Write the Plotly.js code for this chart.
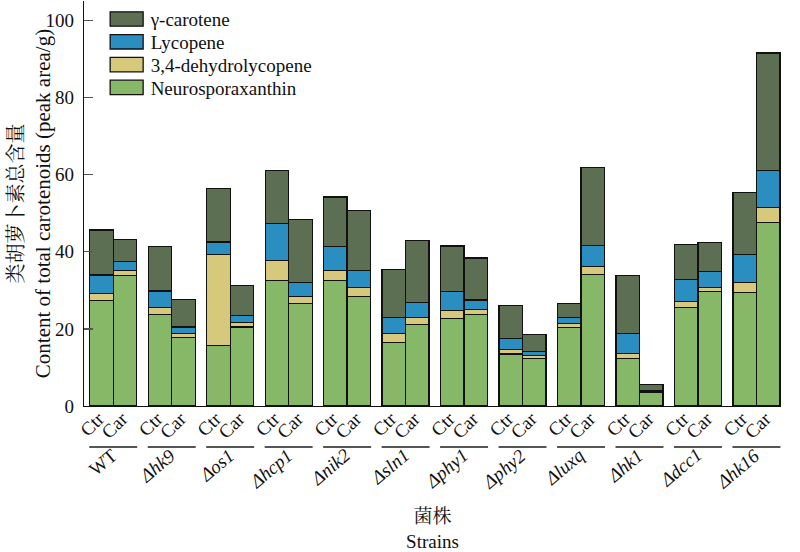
<!DOCTYPE html>
<html>
<head>
<meta charset="utf-8">
<script src="https://cdn.plot.ly/plotly-3.0.1.min.js"></script>
<style>
  html, body { margin: 0; padding: 0; background: #fff; }
  #chart { width: 800px; height: 552px; }
</style>
</head>
<body>
<div id="chart"></div>
<script>
// ---- data ----
const strains = ['WT', 'Δhk9', 'Δos1', 'Δhcp1', 'Δnik2', 'Δsln1', 'Δphy1', 'Δphy2', 'Δluxq', 'Δhk1', 'Δdcc1', 'Δhk16'];
const conditions = ['Ctr', 'Car'];
const seriesNames = ['Neurosporaxanthin', '3,4-dehydrolycopene', 'Lycopene', 'γ-carotene'];

const neuroCtr   = [27.4, 23.7, 15.7, 32.6, 32.5, 16.4, 22.7, 13.5, 20.4, 12.4, 25.6, 29.4];
const neuroCar   = [33.9, 17.8, 20.5, 26.5, 28.4, 21.2, 23.8, 12.4, 34.1, 3.5, 29.6, 47.6];
const dehydroCtr = [1.7, 1.8, 23.5, 5.1, 2.7, 2.4, 2.0, 1.2, 1.0, 1.3, 1.5, 2.6];
const dehydroCar = [1.3, 1.0, 1.2, 1.9, 2.4, 1.8, 1.3, 0.7, 2.0, 0.3, 1.2, 3.8];
const lycoCtr    = [4.9, 4.3, 3.3, 9.7, 6.1, 4.2, 5.0, 2.8, 1.6, 5.1, 5.7, 7.3];
const lycoCar    = [2.2, 1.7, 1.8, 3.7, 4.4, 3.8, 2.4, 1.1, 5.5, 0.3, 4.1, 9.6];
const gammaCtr   = [11.6, 11.5, 13.8, 13.7, 12.9, 12.4, 11.8, 8.6, 3.6, 15.0, 9.1, 16.0];
const gammaCar   = [5.8, 7.2, 7.8, 16.3, 15.5, 16.1, 10.9, 4.4, 20.2, 1.5, 7.5, 30.5];

const yTicks = [0, 20, 40, 60, 80, 100];

// ---- styling ----
const colors = ['#86b868', '#d6c97c', '#2a8ec0', '#5d6f52'];
const SERIF = '"Liberation Serif", "Times New Roman", Times, serif';
const CJK = "'Noto Serif CJK SC', 'Noto Sans CJK SC', 'Liberation Serif', serif";
const barW = 0.402;

// x positions: each strain is one group, Ctr left / Car right
const xPos = [], xText = [];
strains.forEach((s, i) => {
  conditions.forEach((c, j) => {
    xPos.push(i + (j - 0.5) * barW);
    xText.push(c);
  });
});
function interleave(a, b) {
  const out = [];
  a.forEach((v, i) => { out.push(v, b[i]); });
  return out;
}
const seriesValues = [
  interleave(neuroCtr, neuroCar),
  interleave(dehydroCtr, dehydroCar),
  interleave(lycoCtr, lycoCar),
  interleave(gammaCtr, gammaCar)
];

const traces = seriesNames.map((name, k) => ({
  type: 'bar',
  name: name,
  x: xPos,
  y: seriesValues[k],
  width: barW,
  marker: { color: colors[k], line: { color: '#111', width: 1.3 } },
  hovertemplate: name + ': %{y}<extra></extra>'
}));

// strain labels and group underlines
const annotations = strains.map((s, i) => ({
  xref: 'x', yref: 'paper',
  x: i + 0.18, y: -0.088,
  xanchor: 'right', yanchor: 'top',
  text: s === 'WT' ? s : '<i>' + s + '</i>',
  textangle: -40,
  showarrow: false,
  font: { family: SERIF, size: 19, color: '#111' }
}));
const shapes = strains.map((s, i) => ({
  type: 'line', xref: 'x', yref: 'paper',
  x0: i - 0.41, x1: i + 0.41, y0: -0.101, y1: -0.101,
  line: { color: '#555', width: 2 }
}));

const layout = {
  width: 800, height: 552,
  margin: { l: 84, r: 19, t: 1, b: 146 },
  paper_bgcolor: '#fff', plot_bgcolor: '#fff',
  barmode: 'stack',
  showlegend: true,
  legend: {
    x: 0.0325, y: 1.0, xanchor: 'left', yanchor: 'top',
    traceorder: 'reversed',
    bgcolor: 'rgba(0,0,0,0)',
    font: { family: SERIF, size: 19, color: '#111' },
    tracegroupgap: 0
  },
  font: { family: SERIF, size: 19, color: '#111' },
  xaxis: {
    range: [-0.5, 11.42],
    tickmode: 'array', tickvals: xPos, ticktext: xText,
    tickangle: -45,
    ticks: '',
    ticklabelstandoff: -7,
    ticklabelshift: -3,
    showline: true, linecolor: '#111', linewidth: 1.3,
    showgrid: false, zeroline: false,
    automargin: false,
    tickfont: { family: SERIF, size: 19, color: '#111' },
    title: {
      text: '<span style="font-family:' + CJK + '">菌株</span><br>Strains',
      font: { family: SERIF, size: 19, color: '#111' },
      standoff: 70
    }
  },
  yaxis: {
    range: [0, 105],
    tickmode: 'array', tickvals: yTicks,
    ticks: 'inside', ticklen: 9, tickwidth: 1.5, tickcolor: '#555',
    ticklabelstandoff: 5,
    showline: true, linecolor: '#111', linewidth: 1.3,
    showgrid: false, zeroline: false,
    automargin: false,
    tickfont: { family: SERIF, size: 19, color: '#111' },
    title: {
      text: '<span style="font-family:' + CJK + ';font-size:20px">类胡萝卜素总含量</span><br>Content of total carotenoids (peak area/g)',
      font: { family: SERIF, size: 21, color: '#111' },
      standoff: 8
    }
  },
  annotations: annotations,
  shapes: shapes
};

Plotly.newPlot('chart', traces, layout, { displayModeBar: false, staticPlot: true }).then(gd => {
  // legend: wide colour swatches and the reference's tighter row spacing
  gd.querySelectorAll('.legend path.legendbar, .legend .legendpoints path').forEach(p => {
    p.setAttribute('d', 'M16.5,7.2H-16.5V-7.2H16.5Z');
  });
  gd.querySelectorAll('.legend text.legendtext').forEach(t => {
    t.setAttribute('x', 44);
  });
  gd.querySelectorAll('.legend .traces').forEach((t, k) => {
    t.setAttribute('transform', 'translate(0,' + (18 + k * 22.8) + ')');
  });
});
</script>
</body>
</html>
